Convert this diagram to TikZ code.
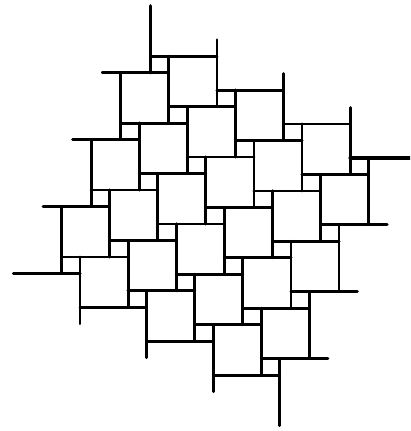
\documentclass[tikz,border=0pt]{standalone}
\usetikzlibrary{calc}
\begin{document}
\begin{tikzpicture}[x=1pt,y=-1pt,
  tile/.style={line width=2.8pt,line cap=round,black},
  stub/.style={line width=3.3pt,line cap=round,black}]
\useasboundingbox (0,0) rectangle (410,431);
\clip (0,0) rectangle (410,431);
% lattice: P(i,j) = (120.7+48.1 i+18.5 j , 72.7-16.5 i+50.4 j)
\foreach \i/\j in {0/0,1/0,
                   -1/1,0/1,1/1,2/1,
                   -2/2,-1/2,0/2,1/2,2/2,3/2,
                   -2/3,-1/3,0/3,1/3,2/3,3/3,
                   -1/4,0/4,1/4,2/4,
                   0/5,1/5}{
  \pgfmathsetmacro\px{120.7+48.1*\i+18.5*\j}
  \pgfmathsetmacro\py{72.7-16.5*\i+50.4*\j}
  \coordinate (tl) at (\px,\py);
  \draw[tile] ($(tl)+(-18.5,0)$) -- ($(tl)+(48.1,0)$);
  \draw[tile] (tl) -- ($(tl)+(0,66.9)$);
  \draw[tile] ($(tl)+(48.1,-16.5)$) -- ($(tl)+(48.1,50.4)$);
  \draw[tile] ($(tl)+(0,50.4)$) -- ($(tl)+(66.6,50.4)$);
}
% boundary stubs
\coordinate (st) at (150.3,5.8);
\coordinate (sl) at (31.9,273.4);
\coordinate (sb) at (279.8,358.6);
\coordinate (sr) at (368.6,157.9);
\draw[stub] (st) -- ($(st)+(0,66.9)$);
\draw[stub] ($(sl)+(-18.5,0)$) -- ($(sl)+(48.1,0)$);
\draw[stub] (sb) -- ($(sb)+(0,66.9)$);
\draw[stub] ($(sr)+(-18.5,0)$) -- ($(sr)+(48.1,0)$);
\end{tikzpicture}
\end{document}
